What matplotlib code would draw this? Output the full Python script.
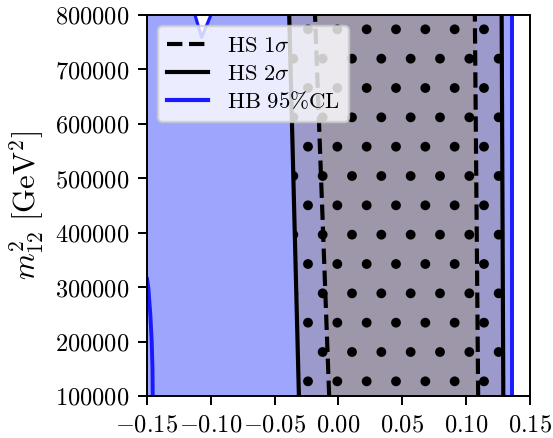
import numpy as np
import matplotlib
matplotlib.use("Agg")
import matplotlib.pyplot as plt
from matplotlib.ticker import FuncFormatter
from matplotlib.lines import Line2D

plt.rcParams['mathtext.fontset'] = 'cm'
plt.rcParams['font.family'] = ['DejaVu Serif']
plt.rcParams['hatch.linewidth'] = 1.6

# y grid (m12^2 in GeV^2)
m12 = [100000, 800000]
# HS 2 sigma boundaries (x at bottom, top)
hs2_left = [-0.0310, -0.0386]
hs2_right = [0.1291, 0.1278]
# HS 1 sigma boundaries
hs1_left = [-0.0073, -0.0184]
hs1_right = [0.1094, 0.1068]
# HB 95% CL right boundary
hb_right = [0.1362, 0.1362]
# HB 95% CL small contour at bottom-left
hb_left_y = [100000, 150000, 200000, 250000, 300000, 315000]
hb_left_x = [-0.1455, -0.1457, -0.1463, -0.1474, -0.1490, -0.1500]
# HB excluded notch at top
notch_y = [800000, 759000, 800000]
notch_x = [-0.1124, -0.1072, -0.0999]

xmin, xmax = -0.15, 0.15
ymin, ymax = 100000, 800000

dpi = 176
fig = plt.figure(figsize=(553 / dpi, 438 / dpi), dpi=dpi)
ax = fig.add_axes([0.2658, 0.0959, 0.9584 - 0.2658, 0.9658 - 0.0959])

c_blue = '#9da5fd'
c_band = '#9c9acb'
c_inner = '#9e97aa'
c_line = '#1a1aff'

# HB allowed region
ax.fill_betweenx(m12, [xmin, xmin], hb_right, color=c_blue, lw=0, zorder=1)
ax.fill(notch_x, notch_y, color='white', lw=0, zorder=1.5)
ax.plot(notch_x, notch_y, color=c_line, lw=1.3, zorder=2)
ax.plot(hb_right, m12, color=c_line, lw=1.6, zorder=2)
ax.plot(hb_left_x, hb_left_y, color=c_line, lw=1.6, zorder=2)

# HS regions
ax.fill_betweenx(m12, hs2_left, hs2_right, color=c_band, lw=0, zorder=1.6)
ax.fill_betweenx(m12, hs1_left, hs1_right, color=c_inner, lw=0, zorder=1.7)
ax.fill_betweenx(m12, hs2_left, hs2_right, facecolor='none', edgecolor='black',
                 hatch='.', lw=0, zorder=1.8)

ax.plot(hs2_left, m12, color='black', lw=1.7, zorder=3)
ax.plot(hs2_right, m12, color='black', lw=1.7, zorder=3)
ax.plot(hs1_left, m12, color='black', lw=1.7, ls='--', zorder=3)
ax.plot(hs1_right, m12, color='black', lw=1.7, ls='--', zorder=3)

ax.set_xlim(xmin, xmax)
ax.set_ylim(ymin, ymax)
ax.set_xticks([-0.15, -0.10, -0.05, 0.00, 0.05, 0.10, 0.15])
ax.set_yticks([100000, 200000, 300000, 400000, 500000, 600000, 700000, 800000])
ax.xaxis.set_major_formatter(FuncFormatter(lambda v, p: f'${v:.2f}$'))
ax.yaxis.set_major_formatter(FuncFormatter(lambda v, p: f'${int(round(v))}$'))
ax.tick_params(labelsize=10)
ax.set_ylabel(r'$m_{12}^2\ [\mathrm{GeV}^2]$', fontsize=12.5)

handles = [
    Line2D([], [], color='black', lw=1.7, ls='--', label=r'$\mathrm{HS}\ 1\sigma$'),
    Line2D([], [], color='black', lw=1.7, label=r'$\mathrm{HS}\ 2\sigma$'),
    Line2D([], [], color=c_line, lw=1.7, label=r'$\mathrm{HB\ 95\%CL}$'),
]
leg = ax.legend(handles=handles, loc='upper left', fontsize=9.3, framealpha=0.8,
                labelspacing=0.25, handlelength=1.8, borderpad=0.4,
                handletextpad=0.8)
leg.set_zorder(5)

fig.savefig('out.png', dpi=dpi)
